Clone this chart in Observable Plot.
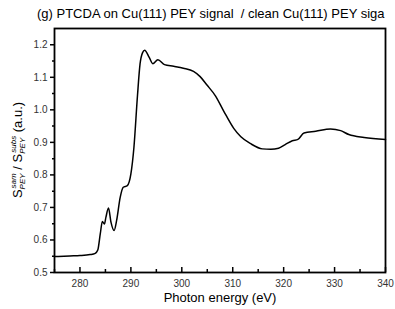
<!DOCTYPE html>
<html>
<head>
<meta charset="utf-8">
<script src="https://cdn.jsdelivr.net/npm/d3@7"></script>
<script src="https://cdn.jsdelivr.net/npm/@observablehq/plot@0.6"></script>
<style>
  html, body { margin: 0; padding: 0; background: #fff; }
  svg { font-family: "Liberation Sans", Arial, sans-serif; }
</style>
</head>
<body>
<div id="chart"></div>
<script>
const energy = [275, 278, 280, 282, 283, 283.5, 284, 284.4, 284.8, 285.1, 285.6, 286.1, 286.7, 287.2, 287.9, 288.5, 289.3, 290, 290.6, 291.3, 291.8, 292.3, 292.7, 293.6, 294.3, 295.3, 296.6, 298.4, 300.3, 302.3, 303.6, 304.9, 306.6, 308.2, 310.2, 311.6, 313.5, 315.8, 317.5, 319.0, 320.3, 321.7, 322.8, 324.0, 326.3, 329.2, 331.2, 332.8, 335.8, 340];
const signal = [0.549, 0.551, 0.552, 0.555, 0.559, 0.569, 0.62, 0.657, 0.649, 0.67, 0.698, 0.654, 0.629, 0.66, 0.731, 0.762, 0.767, 0.803, 0.885, 1.045, 1.141, 1.176, 1.183, 1.161, 1.142, 1.154, 1.139, 1.134, 1.128, 1.118, 1.102, 1.077, 1.043, 0.997, 0.943, 0.917, 0.896, 0.880, 0.879, 0.882, 0.893, 0.905, 0.909, 0.929, 0.934, 0.941, 0.936, 0.924, 0.915, 0.909];
const xMajor = [280, 290, 300, 310, 320, 330, 340];
const xMinor = [275, 285, 295, 305, 315, 325, 335];
const yMajor = [0.5, 0.6, 0.7, 0.8, 0.9, 1.0, 1.1, 1.2];
const yMinor = [0.55, 0.65, 0.75, 0.85, 0.95, 1.05, 1.15];
const titleText = "(g) PTCDA on Cu(111) PEY signal  / clean Cu(111) PEY siga";
const xLabel = "Photon energy (eV)";

const data = energy.map((e, i) => ({e, s: signal[i]}));

const plot = Plot.plot({
  width: 395,
  height: 309,
  marginLeft: 54,
  marginRight: 10,
  marginTop: 28,
  marginBottom: 37,
  style: {fontFamily: "Liberation Sans, Arial, sans-serif", fontSize: "10px", color: "#000", background: "#fff"},
  x: {domain: [275, 340]},
  y: {domain: [0.5, 1.25]},
  marks: [
    Plot.axisX(xMajor, {tickSize: 0, tickPadding: 7, tickFormat: d => String(d), fill: "#333", label: null}),
    Plot.axisX(xMajor, {tickSize: -5, text: null, label: null, strokeWidth: 1.5}),
    Plot.axisX(xMinor, {tickSize: -3, text: null, label: null, strokeWidth: 1.5}),
    Plot.axisY(yMajor, {tickSize: 4, tickPadding: 3, tickFormat: d3.format(".1f"), fill: "#333", label: null, strokeWidth: 1.5}),
    Plot.axisY(yMinor, {tickSize: 2, text: null, label: null, strokeWidth: 1.5}),
    Plot.line(data, {x: "e", y: "s", stroke: "#000", strokeWidth: 1.5, curve: "monotone-x"}),
    Plot.frame({stroke: "#000", strokeWidth: 1.8})
  ]
});

const svg = d3.select(plot);
const title = svg.append("text")
  .attr("x", 37).attr("y", 18)
  .attr("text-anchor", "start")
  .attr("font-size", 13).attr("fill", "#000")
  .style("white-space", "pre")
  .text(titleText);

svg.append("text")
  .attr("x", 220).attr("y", 302)
  .attr("text-anchor", "middle")
  .attr("font-size", 13).attr("fill", "#000")
  .text(xLabel);

const yl = svg.append("text")
  .attr("transform", "translate(22,150) rotate(-90)")
  .attr("text-anchor", "middle")
  .attr("font-size", 13).attr("fill", "#000");
yl.append("tspan").text("S");
yl.append("tspan").attr("font-size", 8).attr("font-style", "italic").attr("dy", 3).text("PEY");
yl.append("tspan").attr("font-size", 8).attr("font-style", "italic").attr("dx", -15).attr("dy", -9).text("sam");
yl.append("tspan").attr("dy", 6).text(" / S");
yl.append("tspan").attr("font-size", 8).attr("font-style", "italic").attr("dy", 3).text("PEY");
yl.append("tspan").attr("font-size", 8).attr("font-style", "italic").attr("dx", -15).attr("dy", -9).text("subs");
yl.append("tspan").attr("dy", 6).text(" (a.u.)");

document.getElementById("chart").appendChild(plot);
</script>
</body>
</html>
